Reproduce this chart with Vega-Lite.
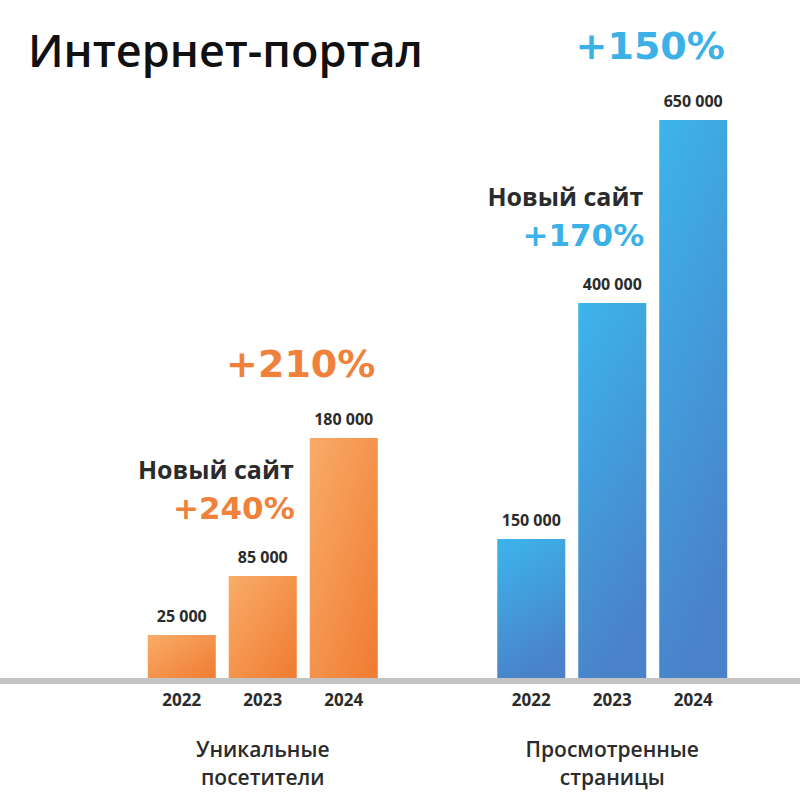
{
  "$schema": "https://vega.github.io/schema/vega-lite/v6.json",
  "width": 800,
  "height": 800,
  "autosize": {"type": "none"},
  "padding": 0,
  "background": "white",
  "config": {"view": {"stroke": null}, "font": "Open Sans"},
  "title": {
    "text": "Интернет-портал",
    "anchor": "start",
    "frame": "group",
    "offset": -66,
    "baseline": "alphabetic",
    "dx": 28,
    "dy": 46,
    "fontSize": 45,
    "fontWeight": 600,
    "color": "#111111",
    "font": "Open Sans"
  },
  "datasets": {
    "bars": [
      {"group": "Уникальные посетители", "year": "2022", "value": 25000, "label": "25 000"},
      {"group": "Уникальные посетители", "year": "2023", "value": 85000, "label": "85 000"},
      {"group": "Уникальные посетители", "year": "2024", "value": 180000, "label": "180 000"},
      {"group": "Просмотренные страницы", "year": "2022", "value": 150000, "label": "150 000"},
      {"group": "Просмотренные страницы", "year": "2023", "value": 400000, "label": "400 000"},
      {"group": "Просмотренные страницы", "year": "2024", "value": 650000, "label": "650 000"}
    ],
    "notes": [
      {"group": "Уникальные посетители", "year": "2024", "ref": 180000, "kind": "big", "text": "+210%"},
      {"group": "Уникальные посетители", "year": "2023", "ref": 85000, "kind": "new", "text": "Новый сайт"},
      {"group": "Уникальные посетители", "year": "2023", "ref": 85000, "kind": "pct", "text": "+240%"},
      {"group": "Просмотренные страницы", "year": "2024", "ref": 650000, "kind": "big", "text": "+150%"},
      {"group": "Просмотренные страницы", "year": "2023", "ref": 400000, "kind": "new", "text": "Новый сайт"},
      {"group": "Просмотренные страницы", "year": "2023", "ref": 400000, "kind": "pct", "text": "+170%"}
    ],
    "groups": [
      {"group": "Уникальные посетители", "label": "Уникальные\nпосетители"},
      {"group": "Просмотренные страницы", "label": "Просмотренные\nстраницы"}
    ]
  },
  "layer": [
    {
      "data": {"name": "bars"},
      "transform": [{"filter": "datum.group === 'Уникальные посетители'"}],
      "mark": {
        "type": "bar",
        "color": {
          "gradient": "linear", "x1": 0, "y1": 0, "x2": 1, "y2": 1,
          "stops": [{"offset": 0, "color": "#F8AC69"}, {"offset": 1, "color": "#F07A30"}]
        }
      },
      "encoding": {
        "x": {"field": "group", "type": "nominal", "axis": null, "scale": {"domain": ["Уникальные посетители", "Просмотренные страницы"], "range": [88, 787], "paddingInner": 0.342, "paddingOuter": 0.171}},
        "xOffset": {"field": "year", "type": "nominal", "scale": {"domain": ["2022", "2023", "2024"], "paddingInner": 0.16, "paddingOuter": 0}},
        "y": {"field": "value", "type": "quantitative", "axis": null, "scale": {"type": "linear", "domain": [0, 25000, 85000, 150000, 180000, 400000, 650000], "range": [681, 635, 576, 539, 438, 303, 120], "nice": false, "zero": false}}
      }
    },
    {
      "data": {"name": "bars"},
      "transform": [{"filter": "datum.group === 'Просмотренные страницы'"}],
      "mark": {
        "type": "bar",
        "color": {
          "gradient": "linear", "x1": 0, "y1": 0, "x2": 0.3, "y2": 1,
          "stops": [{"offset": 0, "color": "#3CB5EB"}, {"offset": 1, "color": "#4A82CA"}]
        }
      },
      "encoding": {
        "x": {"field": "group", "type": "nominal", "axis": null},
        "xOffset": {"field": "year", "type": "nominal"},
        "y": {"field": "value", "type": "quantitative", "axis": null}
      }
    },
    {
      "data": {"values": [{}]},
      "mark": {"type": "rule", "color": "#c3c3c3", "strokeWidth": 6},
      "encoding": {
        "y": {"datum": 0, "type": "quantitative", "axis": null}
      }
    },
    {
      "data": {"name": "bars"},
      "mark": {"type": "text", "dy": -13, "baseline": "alphabetic", "fontSize": 16, "fontWeight": "bold", "color": "#2b2b2b"},
      "encoding": {
        "x": {"field": "group", "type": "nominal", "axis": null},
        "xOffset": {"field": "year", "type": "nominal"},
        "y": {"field": "value", "type": "quantitative", "axis": null},
        "text": {"field": "label"}
      }
    },
    {
      "data": {"name": "bars"},
      "mark": {"type": "text", "dy": 25, "baseline": "alphabetic", "fontSize": 17, "fontWeight": "bold", "color": "#2b2b2b"},
      "encoding": {
        "x": {"field": "group", "type": "nominal", "axis": null},
        "xOffset": {"field": "year", "type": "nominal"},
        "y": {"datum": 0, "type": "quantitative", "axis": null},
        "text": {"field": "year"}
      }
    },
    {
      "data": {"name": "notes"},
      "transform": [{"filter": "datum.kind === 'big'"}],
      "mark": {"type": "text", "dx": -43, "dy": -61, "baseline": "alphabetic", "align": "center", "font": "DejaVu Sans", "fontSize": 38, "fontWeight": "bold"},
      "encoding": {
        "x": {"field": "group", "type": "nominal", "axis": null},
        "xOffset": {"field": "year", "type": "nominal"},
        "y": {"field": "ref", "type": "quantitative", "axis": null},
        "text": {"field": "text"},
        "color": {"field": "group", "type": "nominal", "legend": null, "scale": {"domain": ["Уникальные посетители", "Просмотренные страницы"], "range": ["#F0813A", "#3BB1E7"]}}
      }
    },
    {
      "data": {"name": "notes"},
      "transform": [{"filter": "datum.kind === 'pct'"}],
      "mark": {"type": "text", "dx": 32, "dy": -57, "baseline": "alphabetic", "align": "right", "font": "DejaVu Sans", "fontSize": 31, "fontWeight": "bold"},
      "encoding": {
        "x": {"field": "group", "type": "nominal", "axis": null},
        "xOffset": {"field": "year", "type": "nominal"},
        "y": {"field": "ref", "type": "quantitative", "axis": null},
        "text": {"field": "text"},
        "color": {"field": "group", "type": "nominal", "legend": null}
      }
    },
    {
      "data": {"name": "notes"},
      "transform": [{"filter": "datum.kind === 'new'"}],
      "mark": {"type": "text", "dx": 31, "dy": -97, "baseline": "alphabetic", "align": "right", "fontSize": 25, "fontWeight": "bold", "color": "#2b2b2b"},
      "encoding": {
        "x": {"field": "group", "type": "nominal", "axis": null},
        "xOffset": {"field": "year", "type": "nominal"},
        "y": {"field": "ref", "type": "quantitative", "axis": null},
        "text": {"field": "text"}
      }
    },
    {
      "data": {"name": "groups"},
      "mark": {"type": "text", "dy": 76, "baseline": "alphabetic", "align": "center", "fontSize": 21, "fontWeight": 600, "color": "#2b2b2b", "lineBreak": "\n", "lineHeight": 28},
      "encoding": {
        "x": {"field": "group", "type": "nominal", "axis": null},
        "y": {"datum": 0, "type": "quantitative", "axis": null},
        "text": {"field": "label"}
      }
    }
  ]
}
